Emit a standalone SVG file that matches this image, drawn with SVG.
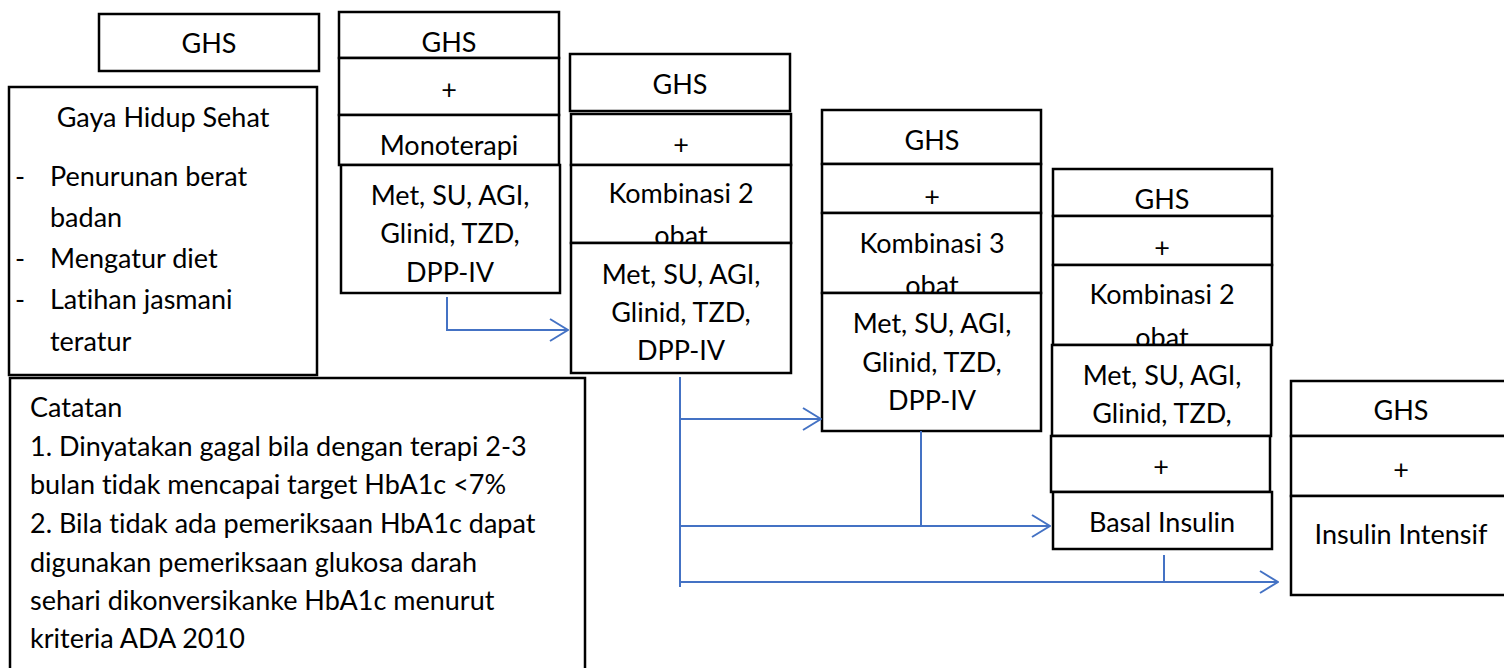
<svg xmlns="http://www.w3.org/2000/svg" width="1504" height="668" viewBox="0 0 1504 668">
<style>
rect{fill:#fff;stroke:#000;stroke-width:2.5}
text{font-family:Lato,"Liberation Sans",sans-serif;font-size:27px;fill:#000;font-variant-ligatures:none;font-feature-settings:"liga" 0,"dlig" 0}
.c{text-anchor:middle}
.con{fill:none;stroke:#4472C4;stroke-width:2}
</style>
<defs>
<marker id="ah" viewBox="0 0 20 24" refX="19" refY="12" markerWidth="20" markerHeight="24" markerUnits="userSpaceOnUse" orient="auto">
<path d="M1,1 L19,12 L1,23" fill="none" stroke="#4472C4" stroke-width="2"/>
</marker>
</defs>
<rect width="1504" height="668" style="fill:#fff;stroke:none"/>

<g id="ghs-box">
<rect x="99" y="14" width="220" height="57"/>
<text class="c" x="209" y="53">GHS</text>
</g>

<g id="gaya-hidup">
<rect x="9" y="87" width="308" height="288"/>
<text class="c" x="163" y="127">Gaya Hidup Sehat</text>
<text x="15" y="186">-</text><text x="50" y="186">Penurunan berat</text>
<text x="50" y="227">badan</text>
<text x="15" y="268">-</text><text x="50" y="268">Mengatur diet</text>
<text x="15" y="309">-</text><text x="50" y="309">Latihan jasmani</text>
<text x="50" y="351">teratur</text>
</g>

<g id="catatan">
<rect x="10" y="378" width="575" height="300"/>
<text x="30" y="417">Catatan</text>
<text x="30" y="456">1. Dinyatakan gagal bila dengan terapi 2-3</text>
<text x="30" y="494">bulan tidak mencapai target HbA1c &lt;7%</text>
<text x="30" y="533">2. Bila tidak ada pemeriksaan HbA1c dapat</text>
<text x="30" y="572">digunakan pemeriksaan glukosa darah</text>
<text x="30" y="610">sehari dikonversikanke HbA1c menurut</text>
<text x="30" y="648">kriteria ADA 2010</text>
</g>

<g id="monoterapi">
<rect x="339" y="12" width="220" height="46"/>
<text class="c" x="449" y="52">GHS</text>
<rect x="339" y="58" width="220" height="57"/>
<text class="c" x="449" y="99">+</text>
<rect x="339" y="115" width="220" height="50"/>
<text class="c" x="449" y="155">Monoterapi</text>
<rect x="341" y="165" width="219" height="128"/>
<text class="c" x="450" y="205">Met, SU, AGI,</text>
<text class="c" x="450" y="243">Glinid, TZD,</text>
<text class="c" x="450" y="282">DPP-IV</text>
</g>

<g id="kombinasi-2">
<rect x="570" y="54" width="220" height="57"/>
<text class="c" x="680" y="94">GHS</text>
<rect x="571" y="114" width="220" height="51"/>
<text class="c" x="681" y="154">+</text>
<rect x="571" y="165" width="220" height="78"/>
<text class="c" x="681" y="203">Kombinasi 2</text>
<text class="c" x="681" y="245">obat</text>
<rect x="571" y="243" width="220" height="130"/>
<text class="c" x="681" y="284">Met, SU, AGI,</text>
<text class="c" x="681" y="322">Glinid, TZD,</text>
<text class="c" x="681" y="360">DPP-IV</text>
</g>

<g id="kombinasi-3">
<rect x="822" y="110" width="219" height="54"/>
<text class="c" x="932" y="150">GHS</text>
<rect x="822" y="164" width="219" height="49"/>
<text class="c" x="932" y="206">+</text>
<rect x="822" y="213" width="219" height="80"/>
<text class="c" x="932" y="253">Kombinasi 3</text>
<text class="c" x="932" y="295">obat</text>
<rect x="822" y="293" width="219" height="138"/>
<text class="c" x="932" y="333">Met, SU, AGI,</text>
<text class="c" x="932" y="372">Glinid, TZD,</text>
<text class="c" x="932" y="410">DPP-IV</text>
</g>

<g id="basal-insulin">
<rect x="1053" y="169" width="219" height="47"/>
<text class="c" x="1162" y="209">GHS</text>
<rect x="1053" y="216" width="219" height="49"/>
<text class="c" x="1162" y="257">+</text>
<rect x="1053" y="265" width="219" height="80"/>
<text class="c" x="1162" y="304">Kombinasi 2</text>
<text class="c" x="1162" y="347">obat</text>
<rect x="1052" y="345" width="219" height="91"/>
<text class="c" x="1162" y="385">Met, SU, AGI,</text>
<text class="c" x="1162" y="423">Glinid, TZD,</text>
<rect x="1051" y="436" width="219" height="56"/>
<text class="c" x="1161" y="476">+</text>
<rect x="1053" y="492" width="219" height="57"/>
<text class="c" x="1162" y="532">Basal Insulin</text>
</g>

<g id="insulin-intensif">
<rect x="1291" y="381" width="220" height="55"/>
<text class="c" x="1401" y="420">GHS</text>
<rect x="1291" y="436" width="220" height="60"/>
<text class="c" x="1401" y="479">+</text>
<rect x="1291" y="496" width="220" height="99"/>
<text class="c" x="1401" y="544">Insulin Intensif</text>
</g>

<g id="connectors">
<path class="con" d="M447,297 V330 H568" marker-end="url(#ah)"/>
<path class="con" d="M680,377 V587"/>
<path class="con" d="M680,419 H821" marker-end="url(#ah)"/>
<path class="con" d="M921,431 V526"/>
<path class="con" d="M680,526 H1050" marker-end="url(#ah)"/>
<path class="con" d="M1164,555 V582"/>
<path class="con" d="M680,582 H1278" marker-end="url(#ah)"/>
</g>
</svg>
